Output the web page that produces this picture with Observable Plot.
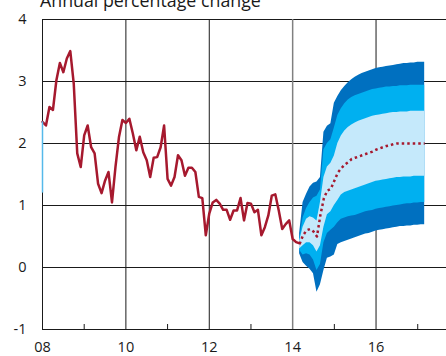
<!DOCTYPE html>
<html><head><meta charset="utf-8">
<script src="https://cdn.jsdelivr.net/npm/d3@7"></script>
<script src="https://cdn.jsdelivr.net/npm/@observablehq/plot@0.6"></script>
<style>
body{margin:0;background:#fff;overflow:hidden;}
#wrap{position:relative;width:446px;height:356px;}
#title{position:absolute;left:40px;top:-9.5px;font:17.8px/18px "Open Sans";color:#1a1a1a;white-space:nowrap;z-index:2;}
</style></head><body>
<div id="wrap"><div id="title">Annual percentage change</div><div id="chart"></div></div>
<script>
// Monthly history, Jan 2008 .. Mar 2014
const histStart = 2008;
const histValues = [
  2.35,2.29,2.59,2.54,3.02,3.30,3.15,3.37,3.49,2.96,1.84,1.62,
  2.13,2.29,1.94,1.84,1.35,1.20,1.40,1.54,1.05,1.62,2.10,2.38,
  2.33,2.40,2.16,1.89,2.11,1.86,1.73,1.46,1.77,1.78,1.94,2.29,
  1.43,1.32,1.46,1.81,1.73,1.48,1.61,1.61,1.54,1.14,1.12,0.52,
  0.87,1.05,1.09,1.03,0.93,0.93,0.77,0.92,0.92,1.12,0.76,1.04,
  1.03,0.89,0.93,0.52,0.65,0.84,1.16,1.18,0.92,0.62,0.70,0.76,
  0.46,0.41,0.39
];
// Fan chart, monthly from Mar 2014
const fanStart = 2014 + 2/12;
const fanMedian = [0.38,0.52,0.60,0.62,0.58,0.50,0.85,1.12,1.24,1.27,1.40,1.53,1.60,1.66,1.70,1.75,1.77,1.79,1.81,1.83,1.85,1.87,1.90,1.92,1.94,1.96,1.97,1.99,2.00,2.00,2.00,2.00,2.00,2.00,2.00,2.00,2.00];
const hi90 = [0.55,1.05,1.18,1.30,1.36,1.38,1.45,2.18,2.28,2.32,2.65,2.76,2.85,2.92,2.98,3.03,3.07,3.10,3.13,3.15,3.17,3.19,3.21,3.22,3.23,3.24,3.25,3.26,3.27,3.28,3.29,3.29,3.30,3.30,3.31,3.31,3.31];
const hi60 = [0.45,0.80,0.95,1.05,1.12,1.15,1.25,1.90,2.00,2.06,2.25,2.45,2.56,2.64,2.70,2.74,2.77,2.79,2.81,2.83,2.85,2.87,2.88,2.89,2.90,2.91,2.91,2.92,2.92,2.93,2.93,2.93,2.94,2.94,2.94,2.94,2.94];
const hi30 = [0.42,0.65,0.78,0.82,0.80,0.75,1.05,1.45,1.62,1.68,1.80,2.00,2.12,2.20,2.26,2.30,2.33,2.36,2.38,2.40,2.42,2.44,2.45,2.46,2.47,2.48,2.49,2.50,2.50,2.51,2.51,2.51,2.52,2.52,2.52,2.52,2.52];
const lo30 = [0.30,0.35,0.40,0.40,0.35,0.25,0.35,0.65,0.85,0.90,1.00,1.08,1.17,1.21,1.23,1.25,1.27,1.29,1.31,1.33,1.35,1.37,1.39,1.40,1.41,1.42,1.43,1.44,1.45,1.45,1.46,1.46,1.46,1.47,1.47,1.47,1.47];
const lo60 = [0.28,0.20,0.22,0.20,0.12,-0.05,0.05,0.40,0.55,0.60,0.65,0.72,0.78,0.80,0.82,0.83,0.84,0.86,0.88,0.90,0.91,0.92,0.94,0.95,0.96,0.97,0.98,0.99,1.00,1.01,1.02,1.03,1.03,1.04,1.04,1.05,1.05];
const lo90 = [0.22,0.08,0.02,-0.03,-0.10,-0.40,-0.28,-0.05,0.15,0.17,0.20,0.37,0.40,0.42,0.44,0.46,0.48,0.50,0.52,0.54,0.55,0.57,0.59,0.60,0.61,0.62,0.63,0.64,0.65,0.66,0.66,0.67,0.67,0.68,0.68,0.69,0.69];
const edgeSegment = [1.2, 2.35];

const yTicks = [-1, 0, 1, 2, 3, 4];
const majorYears = [2008, 2010, 2012, 2014, 2016];
const minorYears = [2009, 2011, 2013, 2015, 2017];
const forecastLine = [2014];

const hist = histValues.map((v, i) => ({date: histStart + i / 12, value: v}));
const fan = fanMedian.map((m, i) => ({
  date: fanStart + i / 12, median: m,
  hi90: hi90[i], hi60: hi60[i], hi30: hi30[i], lo30: lo30[i], lo60: lo60[i], lo90: lo90[i]
}));

const red = "#A6192E";
const chart = Plot.plot({
  width: 446, height: 356,
  marginLeft: 42, marginRight: 0, marginTop: 19, marginBottom: 27,
  style: {fontFamily: "Open Sans", fontSize: "14.5px", color: "#1a1a1a", background: "white", overflow: "visible"},
  x: {domain: [2008, 2017.69], label: null},
  y: {domain: [-1, 4], label: null},
  marks: [
    Plot.ruleY(yTicks, {stroke: "#1a1a1a", strokeWidth: 1}),
    Plot.ruleX(majorYears.filter(d => !forecastLine.includes(d)), {stroke: "#1a1a1a", strokeWidth: 1}),
    Plot.ruleX(forecastLine, {stroke: "#808080", strokeWidth: 1.5}),
    Plot.areaY(fan, {x: "date", y1: "lo90", y2: "hi90", fill: "#0070C0"}),
    Plot.areaY(fan, {x: "date", y1: "lo60", y2: "hi60", fill: "#00B0F0"}),
    Plot.areaY(fan, {x: "date", y1: "lo30", y2: "hi30", fill: "#C5E9FB"}),
    Plot.line(hist, {x: "date", y: "value", stroke: red, strokeWidth: 2.5}),
    Plot.line(fan, {x: "date", y: "median", stroke: red, strokeWidth: 2.5, strokeDasharray: "2.5,3", strokeLinecap: "butt"}),
    Plot.ruleX([histStart], {y1: edgeSegment[0], y2: edgeSegment[1], stroke: "#55b9ea", strokeWidth: 1.5}),
    Plot.tickX(minorYears, {insetTop: 305, stroke: "#1a1a1a"}),
    Plot.axisY({ticks: yTicks, tickSize: 0, tickPadding: 16, tickFormat: d => String(d), label: null}),
    Plot.axisX({ticks: majorYears, tickSize: 0, tickPadding: 12, tickFormat: d => String(d).slice(2), label: null})
  ]
});
document.getElementById("chart").appendChild(chart);
</script></body></html>
